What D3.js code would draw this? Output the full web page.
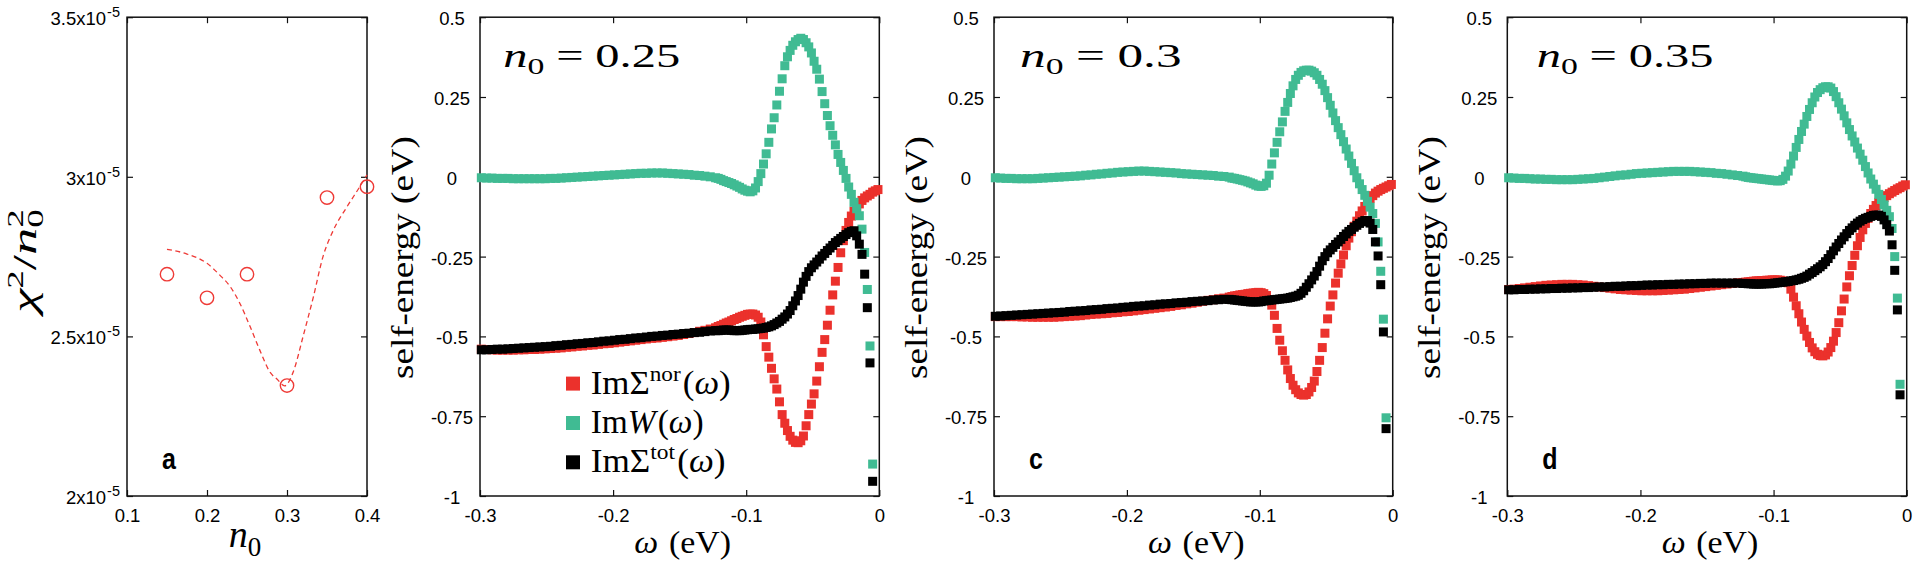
<!DOCTYPE html>
<html><head><meta charset="utf-8">
<script src="https://cdn.jsdelivr.net/npm/d3@7"></script>
<style>body{margin:0;background:#fff}svg{display:block}</style>
</head><body>
<svg id="chart" width="1914" height="561"></svg>
<script>
// ---------------- DATA ----------------
const omega = [-0.299,-0.295,-0.291,-0.287,-0.283,-0.279,-0.275,-0.271,-0.267,-0.263,-0.259,-0.255,-0.251,-0.247,-0.243,-0.239,-0.235,-0.231,-0.227,-0.223,-0.219,-0.215,-0.211,-0.207,-0.203,-0.199,-0.195,-0.191,-0.187,-0.183,-0.179,-0.175,-0.171,-0.167,-0.163,-0.159,-0.155,-0.151,-0.147,-0.143,-0.139,-0.135,-0.131,-0.127,-0.123,
-0.121,-0.119,-0.117,-0.115,-0.113,-0.111,-0.109,-0.107,-0.105,-0.103,-0.101,-0.099,-0.097,-0.095,-0.093,-0.091,-0.089,-0.087,-0.085,-0.083,-0.081,-0.079,-0.077,-0.075,-0.073,-0.071,-0.069,-0.067,-0.065,-0.063,-0.061,-0.059,-0.057,-0.055,-0.053,-0.051,-0.049,-0.047,-0.045,-0.043,-0.041,-0.039,-0.037,-0.035,-0.033,-0.031,-0.029,-0.027,-0.025,-0.023,-0.021,-0.019,-0.017,-0.015,-0.013,-0.011,-0.009,-0.007,-0.005,-0.003,-0.001];

// n0 = 0.25
const imSigmaNor025 = [-0.540,-0.541,-0.542,-0.543,-0.543,-0.543,-0.543,-0.542,-0.542,-0.541,-0.541,-0.540,-0.539,-0.538,-0.537,-0.536,-0.534,-0.533,-0.531,-0.530,-0.528,-0.527,-0.525,-0.523,-0.522,-0.520,-0.518,-0.516,-0.514,-0.512,-0.510,-0.508,-0.506,-0.505,-0.503,-0.501,-0.499,-0.497,-0.494,-0.491,-0.488,-0.484,-0.481,-0.477,-0.473,
-0.469,-0.466,-0.462,-0.458,-0.455,-0.451,-0.447,-0.444,-0.440,-0.437,-0.434,-0.431,-0.430,-0.430,-0.433,-0.440,-0.455,-0.495,-0.532,-0.565,-0.600,-0.633,-0.665,-0.705,-0.745,-0.772,-0.795,-0.813,-0.825,-0.832,-0.833,-0.827,-0.812,-0.780,-0.745,-0.712,-0.680,-0.640,-0.595,-0.550,-0.510,-0.465,-0.418,-0.370,-0.327,-0.284,-0.238,-0.200,-0.168,-0.143,-0.123,-0.108,-0.095,-0.085,-0.074,-0.066,-0.060,-0.055,-0.048,-0.044,-0.040];
const imW025 = [-0.003,-0.004,-0.004,-0.005,-0.005,-0.005,-0.006,-0.006,-0.006,-0.006,-0.006,-0.006,-0.006,-0.005,-0.005,-0.004,-0.003,-0.002,-0.001,0.000,0.001,0.002,0.003,0.004,0.005,0.006,0.007,0.008,0.009,0.010,0.011,0.011,0.012,0.012,0.012,0.011,0.010,0.009,0.008,0.007,0.005,0.004,0.002,0.000,-0.003,
-0.005,-0.008,-0.012,-0.015,-0.018,-0.021,-0.025,-0.029,-0.033,-0.038,-0.042,-0.045,-0.047,-0.044,-0.035,-0.015,0.010,0.040,0.072,0.108,0.150,0.185,0.225,0.268,0.307,0.348,0.376,0.396,0.412,0.423,0.430,0.434,0.430,0.420,0.407,0.388,0.362,0.337,0.306,0.267,0.229,0.192,0.160,0.130,0.100,0.070,0.045,0.020,-0.005,-0.032,-0.055,-0.080,-0.100,-0.122,-0.164,-0.237,-0.353,-0.530,-0.900,null,null];
const imSigmaTot025 = [-0.542,-0.542,-0.541,-0.540,-0.540,-0.539,-0.538,-0.537,-0.536,-0.535,-0.534,-0.533,-0.532,-0.531,-0.529,-0.528,-0.526,-0.525,-0.523,-0.522,-0.520,-0.519,-0.517,-0.515,-0.514,-0.512,-0.510,-0.509,-0.507,-0.505,-0.504,-0.502,-0.500,-0.499,-0.497,-0.496,-0.494,-0.493,-0.491,-0.490,-0.488,-0.487,-0.485,-0.483,-0.482,
-0.482,-0.481,-0.480,-0.480,-0.480,-0.481,-0.482,-0.482,-0.482,-0.481,-0.480,-0.479,-0.478,-0.478,-0.477,-0.476,-0.475,-0.474,-0.472,-0.470,-0.467,-0.463,-0.458,-0.453,-0.446,-0.439,-0.430,-0.419,-0.404,-0.389,-0.372,-0.352,-0.330,-0.312,-0.297,-0.285,-0.276,-0.267,-0.258,-0.248,-0.240,-0.231,-0.223,-0.215,-0.206,-0.200,-0.193,-0.187,-0.181,-0.175,-0.171,-0.169,-0.185,-0.211,-0.243,-0.305,-0.410,-0.583,-0.954,null,null];

// n0 = 0.3
const imSigmaNor030 = [-0.438,-0.438,-0.438,-0.438,-0.438,-0.439,-0.439,-0.440,-0.440,-0.440,-0.440,-0.440,-0.439,-0.438,-0.437,-0.436,-0.435,-0.433,-0.431,-0.430,-0.429,-0.428,-0.426,-0.425,-0.423,-0.422,-0.420,-0.418,-0.416,-0.414,-0.412,-0.410,-0.408,-0.406,-0.403,-0.401,-0.398,-0.396,-0.393,-0.390,-0.387,-0.385,-0.382,-0.380,-0.377,
-0.375,-0.373,-0.372,-0.370,-0.369,-0.368,-0.366,-0.365,-0.364,-0.363,-0.362,-0.363,-0.366,-0.372,-0.385,-0.402,-0.434,-0.475,-0.512,-0.545,-0.575,-0.605,-0.632,-0.653,-0.667,-0.677,-0.682,-0.684,-0.682,-0.674,-0.660,-0.640,-0.610,-0.575,-0.535,-0.490,-0.445,-0.405,-0.370,-0.333,-0.302,-0.273,-0.245,-0.216,-0.192,-0.172,-0.155,-0.139,-0.122,-0.107,-0.093,-0.080,-0.068,-0.059,-0.051,-0.045,-0.040,-0.036,-0.032,-0.028,-0.024];
const imW030 = [-0.003,-0.004,-0.005,-0.005,-0.006,-0.006,-0.006,-0.006,-0.005,-0.004,-0.003,-0.002,-0.001,0.000,0.001,0.002,0.003,0.005,0.006,0.008,0.009,0.011,0.012,0.014,0.015,0.016,0.017,0.018,0.018,0.017,0.016,0.015,0.014,0.013,0.012,0.010,0.009,0.008,0.007,0.006,0.005,0.004,0.002,0.001,-0.001,
-0.004,-0.005,-0.007,-0.009,-0.011,-0.013,-0.016,-0.019,-0.022,-0.026,-0.029,-0.030,-0.028,-0.020,0.005,0.040,0.075,0.108,0.141,0.172,0.205,0.233,0.261,0.285,0.305,0.318,0.327,0.332,0.334,0.334,0.331,0.326,0.318,0.305,0.290,0.270,0.248,0.224,0.200,0.176,0.154,0.132,0.110,0.087,0.065,0.042,0.019,-0.003,-0.022,-0.040,-0.058,-0.077,-0.095,-0.115,-0.146,-0.204,-0.296,-0.446,-0.755,null,null];
const imSigmaTot030 = [-0.437,-0.436,-0.435,-0.434,-0.433,-0.432,-0.431,-0.430,-0.429,-0.428,-0.427,-0.426,-0.425,-0.424,-0.422,-0.421,-0.420,-0.419,-0.417,-0.416,-0.415,-0.413,-0.412,-0.411,-0.409,-0.408,-0.406,-0.405,-0.404,-0.402,-0.401,-0.399,-0.398,-0.397,-0.395,-0.394,-0.393,-0.391,-0.390,-0.389,-0.388,-0.386,-0.385,-0.384,-0.384,
-0.385,-0.386,-0.387,-0.388,-0.389,-0.390,-0.391,-0.392,-0.392,-0.392,-0.392,-0.391,-0.389,-0.388,-0.387,-0.386,-0.385,-0.384,-0.383,-0.382,-0.381,-0.380,-0.378,-0.376,-0.374,-0.371,-0.365,-0.357,-0.346,-0.335,-0.323,-0.311,-0.297,-0.280,-0.263,-0.250,-0.238,-0.229,-0.221,-0.212,-0.204,-0.196,-0.187,-0.179,-0.171,-0.165,-0.158,-0.152,-0.146,-0.141,-0.137,-0.137,-0.145,-0.165,-0.204,-0.248,-0.338,-0.486,-0.789,null,null];

// n0 = 0.35
const imSigmaNor035 = [-0.353,-0.352,-0.350,-0.348,-0.346,-0.344,-0.342,-0.340,-0.339,-0.338,-0.337,-0.337,-0.337,-0.338,-0.339,-0.341,-0.343,-0.345,-0.347,-0.349,-0.351,-0.353,-0.354,-0.355,-0.356,-0.357,-0.357,-0.357,-0.357,-0.356,-0.355,-0.354,-0.353,-0.352,-0.350,-0.348,-0.346,-0.344,-0.342,-0.340,-0.338,-0.336,-0.334,-0.332,-0.331,
-0.330,-0.329,-0.328,-0.327,-0.326,-0.326,-0.325,-0.325,-0.324,-0.324,-0.323,-0.323,-0.323,-0.324,-0.326,-0.328,-0.332,-0.352,-0.377,-0.404,-0.429,-0.455,-0.478,-0.499,-0.519,-0.536,-0.548,-0.556,-0.560,-0.561,-0.558,-0.549,-0.535,-0.515,-0.488,-0.457,-0.420,-0.383,-0.345,-0.310,-0.278,-0.246,-0.216,-0.190,-0.166,-0.146,-0.130,-0.115,-0.102,-0.090,-0.080,-0.072,-0.065,-0.059,-0.053,-0.048,-0.043,-0.038,-0.034,-0.029,-0.025];
const imW035 = [-0.003,-0.004,-0.005,-0.005,-0.006,-0.007,-0.007,-0.008,-0.008,-0.009,-0.009,-0.009,-0.009,-0.008,-0.007,-0.006,-0.005,-0.003,-0.001,0.001,0.003,0.005,0.006,0.008,0.010,0.011,0.012,0.013,0.014,0.015,0.016,0.017,0.017,0.017,0.017,0.016,0.015,0.014,0.013,0.011,0.010,0.008,0.006,0.004,0.002,
0.000,-0.002,-0.003,-0.004,-0.005,-0.006,-0.007,-0.008,-0.009,-0.010,-0.011,-0.012,-0.013,-0.012,-0.008,0.002,0.018,0.040,0.065,0.092,0.117,0.142,0.165,0.189,0.211,0.232,0.250,0.264,0.273,0.279,0.282,0.282,0.278,0.267,0.251,0.232,0.212,0.191,0.169,0.148,0.128,0.109,0.090,0.071,0.052,0.032,0.012,-0.007,-0.023,-0.039,-0.055,-0.071,-0.088,-0.105,-0.125,-0.162,-0.250,-0.380,-0.650,null,null];
const imSigmaTot035 = [-0.354,-0.354,-0.353,-0.353,-0.352,-0.352,-0.351,-0.351,-0.350,-0.350,-0.349,-0.349,-0.348,-0.348,-0.347,-0.347,-0.346,-0.345,-0.345,-0.344,-0.343,-0.343,-0.342,-0.341,-0.341,-0.340,-0.339,-0.339,-0.338,-0.338,-0.337,-0.337,-0.336,-0.336,-0.335,-0.335,-0.334,-0.334,-0.333,-0.333,-0.333,-0.333,-0.333,-0.333,-0.334,
-0.334,-0.335,-0.335,-0.336,-0.336,-0.336,-0.336,-0.335,-0.335,-0.335,-0.334,-0.333,-0.332,-0.331,-0.330,-0.329,-0.328,-0.326,-0.325,-0.323,-0.321,-0.318,-0.315,-0.311,-0.305,-0.300,-0.294,-0.288,-0.282,-0.275,-0.266,-0.256,-0.244,-0.232,-0.220,-0.209,-0.198,-0.188,-0.178,-0.168,-0.160,-0.152,-0.145,-0.139,-0.134,-0.130,-0.127,-0.124,-0.121,-0.120,-0.120,-0.124,-0.135,-0.150,-0.170,-0.213,-0.293,-0.417,-0.683,null,null];

// panel a
const n0Samples = [0.15, 0.20, 0.25, 0.30, 0.35, 0.40];
const chi2OverN02 = [2.695e-5, 2.621e-5, 2.695e-5, 2.346e-5, 2.935e-5, 2.969e-5];
const fitN0 = [0.150,0.175,0.200,0.216,0.229,0.241,0.254,0.266,0.279,0.288,0.297,0.308,0.320,0.333,0.345,0.358,0.375,0.391,0.400];
const fitChi = [2.773e-5,2.758e-5,2.729e-5,2.692e-5,2.656e-5,2.604e-5,2.530e-5,2.457e-5,2.387e-5,2.365e-5,2.345e-5,2.390e-5,2.499e-5,2.624e-5,2.750e-5,2.833e-5,2.906e-5,2.969e-5,3.006e-5];

// ticks and labels
const xTicksOmega = [-0.3, -0.2, -0.1, 0];
const yTicksSelfEnergy = [0.5, 0.25, 0, -0.25, -0.5, -0.75, -1];
const xTicksN0 = [0.1, 0.2, 0.3, 0.4];
const yTicksChi = [2e-5, 2.5e-5, 3e-5, 3.5e-5];
const yTickMantissa = ["2", "2.5", "3", "3.5"];
const yTickExponent = "-5";
const panelN0 = ["0.25", "0.3", "0.35"];
const panelLetters = ["", "c", "d"];
const legendBase = ["Σ", "W", "Σ"];
const legendSup = ["nor", "", "tot"];

// ---------------- LAYOUT / STYLE ----------------
const SANS = "'Liberation Sans', Arial, Helvetica, sans-serif";
const SERIF = "'Liberation Serif', 'Times New Roman', serif";
const COL = {nor: "#eb312c", W: "#40bb93", tot: "#000000", a: "#ee3a36"};
const TOP = 17.2, BOTTOM = 496, MARK = 9;
const TICK_FONT = 18.5;
const panelA = {left: 127, right: 367};
const sePanels = [
  {left: 480, right: 879.3, labelX: 503.3, labelW: 153.4},
  {left: 994, right: 1392.7, labelX: 1020, labelW: 136.7},
  {left: 1507.3, right: 1906.7, labelX: 1536.7, labelW: 153.3}
];

const svg = d3.select("#chart");

function fitScale(textSel, target) {
  const len = textSel.node().getComputedTextLength();
  return len > 0 ? target / len : 1;
}

function drawFrameAxes(g, x, y, xt, yt, xfmt, yfmt) {
  const [x0, x1] = x.range();
  g.append("rect").attr("x", x0).attr("y", TOP).attr("width", x1 - x0).attr("height", BOTTOM - TOP)
    .attr("fill", "none").attr("stroke", "#111").attr("stroke-width", 1.5);
  const bottom = g.append("g").attr("transform", `translate(0,${BOTTOM})`)
    .call(d3.axisBottom(x).tickValues(xt).tickFormat(xfmt).tickSizeInner(-6).tickSizeOuter(0).tickPadding(13));
  g.append("g").attr("transform", `translate(0,${TOP})`)
    .call(d3.axisTop(x).tickValues(xt).tickFormat("").tickSizeInner(-6).tickSizeOuter(0));
  const left = g.append("g").attr("transform", `translate(${x0},0)`)
    .call(d3.axisLeft(y).tickValues(yt).tickFormat(yfmt).tickSizeInner(-6).tickSizeOuter(0).tickPadding(7));
  g.append("g").attr("transform", `translate(${x1},0)`)
    .call(d3.axisRight(y).tickValues(yt).tickFormat("").tickSizeInner(-6).tickSizeOuter(0));
  g.selectAll(".domain").remove();
  g.selectAll(".tick line").attr("stroke", "#111").attr("stroke-width", 1.2);
  g.selectAll(".tick text").attr("font-family", SANS).attr("font-size", TICK_FONT).attr("fill", "#000");
  left.selectAll(".tick text").attr("dy", "0.4em");
  return {bottom, left};
}

// ---------- panel a ----------
(function () {
  const x = d3.scaleLinear().domain([0.1, 0.4]).range([panelA.left, panelA.right]);
  const y = d3.scaleLinear().domain([2e-5, 3.5e-5]).range([BOTTOM, TOP]);
  const g = svg.append("g");
  const ax = drawFrameAxes(g, x, y, xTicksN0, yTicksChi, d => d.toFixed(1), () => "");
  ax.left.selectAll(".tick text").each(function (d) {
    const t = d3.select(this);
    const i = yTicksChi.indexOf(d);
    t.attr("text-anchor", "end").attr("x", -7);
    t.append("tspan").text(yTickMantissa[i] + "x10");
    t.append("tspan").attr("font-size", 14.5).attr("dx", 1).attr("dy", -8).text(yTickExponent);
  });
  const line = d3.line().x((d, i) => x(fitN0[i])).y(d => y(d)).curve(d3.curveMonotoneX);
  g.append("path").attr("d", line(fitChi)).attr("fill", "none").attr("stroke", COL.a)
    .attr("stroke-width", 1.3).attr("stroke-dasharray", "5,3.5");
  g.append("g").selectAll("circle").data(chi2OverN02).join("circle")
    .attr("cx", (d, i) => x(n0Samples[i])).attr("cy", d => y(d)).attr("r", 6.7)
    .attr("fill", "none").attr("stroke", COL.a).attr("stroke-width", 1.4);
  g.append("text").attr("transform", `translate(${panelA.left + 35},469) scale(1,1.2)`)
    .attr("font-family", SANS).attr("font-weight", "bold").attr("font-size", 25).text("a");
  const xl = g.append("text").attr("transform", `translate(${(panelA.left + panelA.right) / 2 - 2},547)`)
    .attr("text-anchor", "middle").attr("font-family", SERIF).attr("font-size", 38);
  xl.append("tspan").attr("font-style", "italic").text("n");
  xl.append("tspan").attr("font-size", 27).attr("dy", 9).text("0");
  const yl = g.append("text").attr("font-family", SERIF).attr("font-size", 34).attr("text-anchor", "middle");
  yl.append("tspan").attr("font-style", "italic").text("χ");
  yl.append("tspan").attr("font-size", 23).attr("dy", -13).text("2");
  yl.append("tspan").attr("dy", 13).text("/");
  yl.append("tspan").attr("font-style", "italic").text("n");
  yl.append("tspan").attr("font-size", 23).attr("dy", 7).text("0");
  yl.append("tspan").attr("font-size", 23).attr("dx", -11.5).attr("dy", -20).text("2");
  const s = fitScale(yl, 122);
  yl.attr("transform", `translate(36,261) rotate(-90) scale(${s},1)`);
})();

// ---------- self-energy panels ----------
const seData = [
  [imSigmaNor025, imW025, imSigmaTot025],
  [imSigmaNor030, imW030, imSigmaTot030],
  [imSigmaNor035, imW035, imSigmaTot035]
];
const seColors = [COL.nor, COL.W, COL.tot];

sePanels.forEach((p, k) => {
  const x = d3.scaleLinear().domain([-0.3, 0]).range([p.left, p.right]);
  const y = d3.scaleLinear().domain([-1, 0.5]).range([BOTTOM, TOP]);
  const g = svg.append("g");
  const ax = drawFrameAxes(g, x, y, xTicksOmega, yTicksSelfEnergy, d => String(d), d => String(d));
  ax.left.selectAll(".tick text").attr("text-anchor", "middle").attr("x", -28);

  seData[k].forEach((vals, si) => {
    const pts = omega.map((w, i) => ({w, v: vals[i]})).filter(d => d.v !== null);
    g.append("g").selectAll("rect").data(pts).join("rect")
      .attr("x", d => x(d.w) - MARK / 2).attr("y", d => y(d.v) - MARK / 2)
      .attr("width", MARK).attr("height", MARK).attr("fill", seColors[si]);
  });

  const nt = g.append("text").attr("font-family", SERIF).attr("font-size", 33);
  nt.append("tspan").attr("font-style", "italic").text("n");
  nt.append("tspan").attr("font-size", 23).attr("dy", 7).text("0");
  nt.append("tspan").attr("dy", -7).attr("dx", 8).text("=");
  nt.append("tspan").attr("dx", 8).text(panelN0[k]);
  const sn = fitScale(nt, p.labelW);
  nt.attr("transform", `translate(${p.labelX},67) scale(${sn},1)`);

  const yl = g.append("text").attr("font-family", SERIF).attr("font-size", 31)
    .attr("text-anchor", "middle").text("self-energy (eV)");
  const sy = fitScale(yl, 243);
  yl.attr("transform", `translate(${p.left - 67},257.5) rotate(-90) scale(${sy},1)`);

  const xl = g.append("text").attr("font-family", SERIF).attr("font-size", 32).attr("text-anchor", "middle");
  xl.append("tspan").attr("font-style", "italic").text("ω");
  xl.append("tspan").attr("dx", 10).text("(eV)");
  const sx = fitScale(xl, 86);
  xl.attr("transform", `translate(${(p.left + p.right) / 2 + 3},552.5) scale(${sx},1)`);

  if (panelLetters[k]) {
    g.append("text").attr("transform", `translate(${p.left + 35},469) scale(1,1.2)`)
      .attr("font-family", SANS).attr("font-weight", "bold").attr("font-size", 25).text(panelLetters[k]);
  }

  if (k === 0) {
    const rowsY = [383.6, 423, 462.3];
    const widths = [138, 111, 132.7];
    legendBase.forEach((b, i) => {
      g.append("rect").attr("x", 566).attr("y", rowsY[i] - 7).attr("width", 14).attr("height", 14)
        .attr("fill", seColors[i]);
      const t = g.append("text").attr("font-family", SERIF).attr("font-size", 33);
      t.append("tspan").text("Im");
      if (b === "W") t.append("tspan").attr("font-style", "italic").text("W");
      else t.append("tspan").text(b);
      if (legendSup[i]) t.append("tspan").attr("font-size", 22).attr("dy", -13).text(legendSup[i]);
      t.append("tspan").attr("dy", legendSup[i] ? 13 : 0).attr("dx", 2).text("(");
      t.append("tspan").attr("font-style", "italic").text("ω");
      t.append("tspan").text(")");
      const sl = fitScale(t, widths[i]);
      t.attr("transform", `translate(590.7,${rowsY[i] + 10}) scale(${sl},1)`);
    });
  }
});
</script>
</body></html>
